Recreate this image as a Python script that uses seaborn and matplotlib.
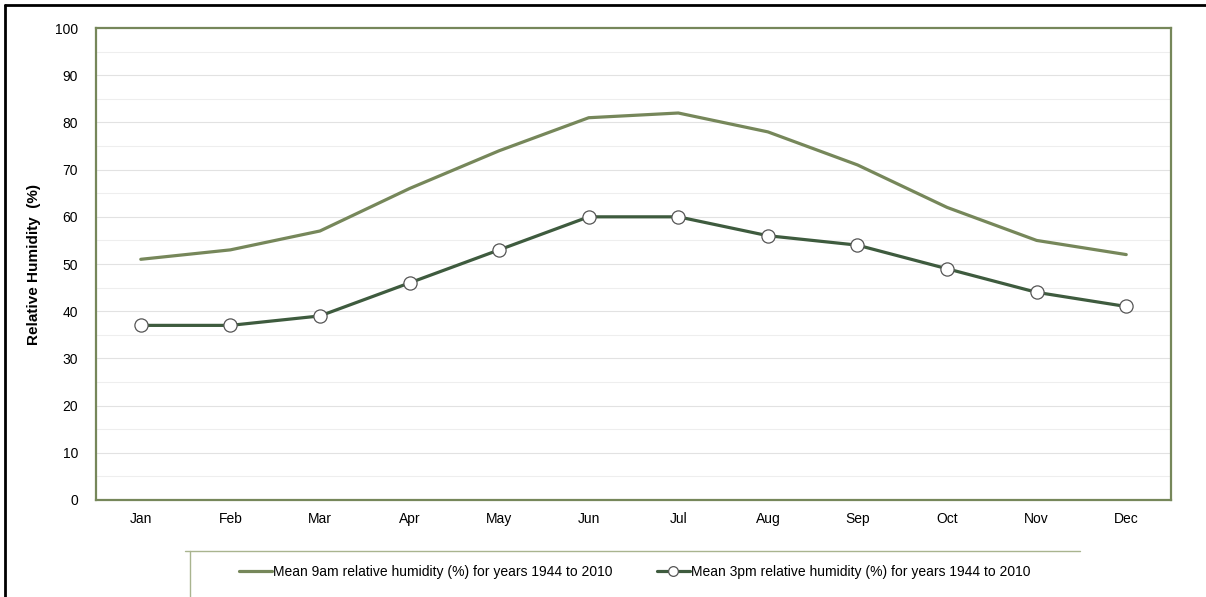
import matplotlib
matplotlib.use("Agg")
import matplotlib.pyplot as plt
import seaborn as sns
import pandas as pd
from matplotlib.lines import Line2D

months = ["Jan", "Feb", "Mar", "Apr", "May", "Jun", "Jul", "Aug", "Sep", "Oct", "Nov", "Dec"]
rh_9am = [51, 53, 57, 66, 74, 81, 82, 78, 71, 62, 55, 52]
rh_3pm = [37, 37, 39, 46, 53, 60, 60, 56, 54, 49, 44, 41]
label_9am = "Mean 9am relative humidity (%) for years 1944 to 2010"
label_3pm = "Mean 3pm relative humidity (%) for years 1944 to 2010"

col_9am = "#76875A"
col_3pm = "#3E5B3E"
spine_col = "#76875A"

df = pd.DataFrame({"pos": range(len(months)), "9am": rh_9am, "3pm": rh_3pm})

sns.set_theme(style="white")
plt.rcParams["font.family"] = ["Liberation Sans", "DejaVu Sans"]
plt.rcParams["text.color"] = "black"
plt.rcParams["xtick.labelcolor"] = "black"
plt.rcParams["ytick.labelcolor"] = "black"
plt.rcParams["axes.labelcolor"] = "black"

fig = plt.figure(figsize=(12.06, 5.97), dpi=100)
ax = fig.add_axes([0.0796, 0.1625, 0.8914, 0.7905])

# grid: major every 10, lighter every 5
for y in range(5, 100, 10):
    ax.axhline(y, color="#EEEEEE", lw=0.8, zorder=0)
for y in range(10, 100, 10):
    ax.axhline(y, color="#E2E2E2", lw=0.8, zorder=0)

sns.lineplot(data=df, x="pos", y="9am", ax=ax, color=col_9am, lw=2.3, label=label_9am)
sns.lineplot(data=df, x="pos", y="3pm", ax=ax, color=col_3pm, lw=2.3, marker="o",
             markersize=9.5, markerfacecolor="white", markeredgecolor="#555555",
             markeredgewidth=0.9, label=label_3pm)

ax.set_xlim(-0.5, len(months) - 0.5)
ax.set_ylim(0, 100)
ax.set_yticks(range(0, 101, 10))
ax.set_xticks(range(len(months)))
ax.set_xticklabels(months)
ax.set_xticks([i + 0.5 for i in range(-1, len(months))], minor=True)
ax.tick_params(axis="x", which="major", length=0, pad=9, labelsize=10)
ax.tick_params(axis="x", which="minor", length=5, color="#AAAAAA", width=0.8, direction="out")
ax.tick_params(axis="y", length=5, color="#AAAAAA", width=0.8, direction="out", pad=8, labelsize=10)
ax.set_xlabel("")
ax.set_ylabel("Relative Humidity  (%)", fontsize=11, fontweight="bold", labelpad=10)

for s in ax.spines.values():
    s.set_color(spine_col)
    s.set_linewidth(1.6)

ax.legend_.remove()
handles = [
    Line2D([], [], color=col_9am, lw=2.3),
    Line2D([], [], color=col_3pm, lw=2.3, marker="o", markersize=7,
           markerfacecolor="white", markeredgecolor="#555555", markeredgewidth=0.9),
]
fig.legend(handles, [label_9am, label_3pm], loc="center", bbox_to_anchor=(0.526, 0.042),
           ncol=2, frameon=False, fontsize=10, handlelength=2.4, handletextpad=0.05,
           columnspacing=3.2)

# legend box edges (clipped at bottom of the picture)
fig.add_artist(Line2D([185 / 1206, 1080 / 1206], [1 - 551 / 597] * 2, color="#A9B48F", lw=1))
fig.add_artist(Line2D([190 / 1206] * 2, [1 - 551 / 597, 0], color="#A9B48F", lw=1))

# outer frame (top and left visible)
fig.add_artist(Line2D([5 / 1206, 1], [1 - 5 / 597] * 2, color="black", lw=2))
fig.add_artist(Line2D([5 / 1206] * 2, [1 - 5 / 597, 0], color="black", lw=2))

fig.savefig("out.png", dpi=100)
